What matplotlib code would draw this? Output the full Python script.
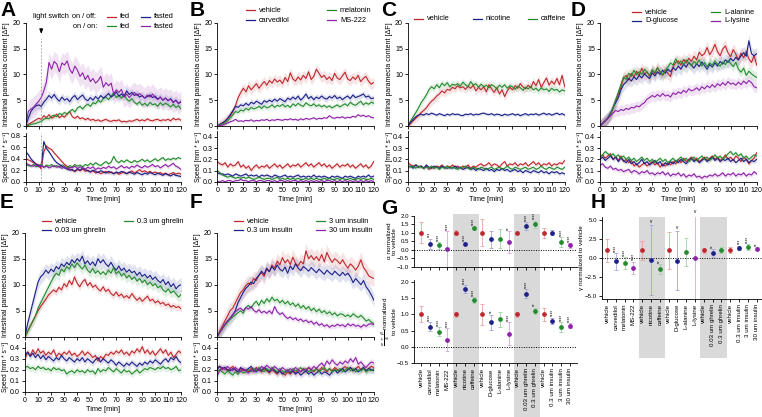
import numpy as np
import matplotlib
matplotlib.use('Agg')
import matplotlib.pyplot as plt
from matplotlib.lines import Line2D
from matplotlib.patches import Rectangle
from matplotlib import transforms

W, H = 762, 417
plt.rcParams['font.family'] = ['Liberation Sans', 'DejaVu Sans']
plt.rcParams['font.size'] = 5.3
plt.rcParams['xtick.labelsize'] = 5.1
plt.rcParams['ytick.labelsize'] = 5.1
plt.rcParams['axes.linewidth'] = 0.6
plt.rcParams['xtick.major.width'] = 0.6
plt.rcParams['ytick.major.width'] = 0.6
plt.rcParams['xtick.major.size'] = 2
plt.rcParams['ytick.major.size'] = 2
plt.rcParams['xtick.major.pad'] = 1.5
plt.rcParams['ytick.major.pad'] = 1.5

RED, BLUE, GREEN, PURPLE = '#c0272d', '#1c2088', '#238b2e', '#8c22a8'
LIGHT = {RED: '#e8a3a3', BLUE: '#a3a6d8', GREEN: '#9fd2a6', PURPLE: '#d8a6e0'}

# ---------------- A: light switch ----------------
A_fed_off = [0,0.3,0.6,0.9,1.2,1.5,1.3,2.0,1.6,2.2,1.5,1.8,2.3,1.6,2.0,1.7,2.4,2.8,1.8,1.5,1.9,1.4,1.6,1.2,1.5,1.1,1.3,1.0,1.2,0.9,1.1,1.3,1.0,0.9,1.1,1.0,1.2,0.8,0.9,0.8,1.0,0.9,1.1,1.3,1.0,1.2,1.0,1.4,1.1,1.0,1.2,1.3,1.0,1.2,1.1,1.3,1.0,1.5,1.2,1.4,1.1]
A_fed_on = [0,0.1,0.3,0.4,0.5,0.7,0.9,1.3,1.5,1.4,1.9,2.1,1.8,2.4,2.2,2.6,2.3,2.8,3.2,2.7,3.5,3.8,3.3,3.9,4.2,3.8,4.5,4.3,5.0,4.6,5.3,5.6,5.1,5.8,6.4,5.5,5.9,5.4,6.1,5.2,4.8,5.3,4.6,4.2,4.7,4.0,4.4,3.9,4.6,4.1,4.3,3.8,4.5,4.0,4.4,4.1,3.7,4.2,3.6,3.9,3.3]
A_fasted_off = [0,1.5,2.8,3.5,3.9,4.1,3.8,4.6,5.2,5.9,5.4,6.1,5.3,4.8,5.6,5.0,5.3,4.7,5.5,5.9,5.1,5.6,6.0,5.2,4.9,5.5,5.0,5.7,5.2,5.9,5.4,5.8,6.3,5.6,6.0,6.6,5.8,6.2,5.7,6.8,6.1,6.5,5.9,6.2,5.6,5.9,5.4,5.7,6.0,5.5,5.8,5.2,5.6,5.0,5.4,4.9,5.3,4.6,5.0,4.4,4.6]
A_fasted_on = [0,2.8,3.3,3.6,4.2,4.8,5.5,6.8,8.5,12.3,11.0,12.5,12.0,10.5,12.2,11.8,12.6,11.0,10.2,11.6,10.8,9.6,10.3,9.0,9.8,8.6,9.2,8.3,8.8,9.6,7.5,8.4,7.8,8.3,6.2,7.0,6.5,7.1,5.6,6.2,5.5,6.1,6.5,5.9,6.3,5.8,5.4,6.0,5.6,6.2,5.5,5.1,5.6,5.0,5.4,4.9,5.2,4.5,5.0,4.3,4.8]
A_spd_fed_off = [0.40,0.38,0.36,0.33,0.31,0.29,0.22,0.52,0.62,0.58,0.56,0.50,0.45,0.40,0.35,0.30,0.27,0.22,0.20,0.18,0.21,0.19,0.22,0.18,0.20,0.17,0.19,0.15,0.17,0.14,0.16,0.18,0.15,0.17,0.14,0.16,0.13,0.15,0.17,0.14,0.16,0.19,0.15,0.18,0.21,0.17,0.19,0.16,0.18,0.15,0.17,0.14,0.16,0.13,0.15,0.12,0.14,0.16,0.13,0.15,0.13]
A_spd_fasted_off = [0.52,0.47,0.40,0.35,0.30,0.28,0.26,0.70,0.58,0.52,0.45,0.38,0.33,0.30,0.27,0.24,0.22,0.20,0.21,0.18,0.23,0.20,0.24,0.21,0.19,0.17,0.20,0.18,0.16,0.19,0.17,0.15,0.18,0.16,0.14,0.17,0.15,0.18,0.16,0.14,0.17,0.15,0.13,0.16,0.14,0.12,0.15,0.13,0.16,0.14,0.12,0.15,0.13,0.11,0.14,0.12,0.10,0.13,0.11,0.10,0.09]
A_spd_fed_on = [0.30,0.28,0.27,0.30,0.26,0.28,0.31,0.25,0.29,0.27,0.30,0.26,0.28,0.25,0.29,0.27,0.24,0.28,0.26,0.30,0.27,0.29,0.26,0.30,0.28,0.32,0.29,0.33,0.30,0.28,0.32,0.35,0.31,0.34,0.44,0.36,0.33,0.37,0.34,0.38,0.35,0.33,0.37,0.34,0.36,0.39,0.35,0.38,0.34,0.37,0.40,0.36,0.39,0.42,0.37,0.40,0.38,0.41,0.39,0.42,0.40]
A_spd_fasted_on = [0.32,0.30,0.28,0.27,0.29,0.26,0.28,0.25,0.27,0.24,0.26,0.28,0.25,0.27,0.23,0.26,0.22,0.25,0.24,0.27,0.23,0.26,0.24,0.22,0.25,0.23,0.26,0.21,0.24,0.22,0.25,0.23,0.27,0.24,0.26,0.22,0.25,0.28,0.24,0.26,0.23,0.27,0.25,0.29,0.26,0.24,0.28,0.25,0.27,0.30,0.26,0.28,0.24,0.27,0.30,0.26,0.29,0.32,0.27,0.25,0.21]

# ---------------- B: sedatives ----------------
B_vehicle = [0,0.3,0.6,1.0,1.5,2.0,2.8,4.0,5.5,6.5,7.3,6.6,7.8,7.0,7.6,8.2,7.3,8.0,8.6,7.9,8.8,8.3,9.1,8.5,8.9,8.2,9.4,8.6,10.3,9.1,8.7,9.5,8.9,9.8,9.2,10.5,9.0,9.6,11.0,10.2,9.4,9.8,9.0,9.5,8.8,10.2,9.3,9.0,9.7,10.4,9.1,8.8,9.5,9.0,9.8,8.6,9.2,9.6,8.7,8.1,8.4]
B_carvedilol = [0,0.3,0.6,0.9,1.5,2.2,3.0,3.8,3.6,4.1,3.9,4.4,4.0,4.6,4.3,4.8,4.5,4.2,4.9,4.6,5.0,4.7,5.2,4.8,5.3,5.0,4.7,5.4,5.1,5.6,5.2,5.8,5.0,5.5,6.2,5.3,5.7,5.1,5.6,5.3,5.8,5.4,5.2,5.7,5.4,5.9,5.3,5.6,5.1,5.5,5.8,5.3,6.0,5.5,5.7,5.9,6.2,5.6,5.8,5.3,5.4]
B_melatonin = [0,0.2,0.4,0.7,1.0,1.6,2.2,2.8,2.6,3.1,2.9,3.4,3.1,3.6,3.3,3.5,3.8,3.4,3.9,3.5,3.7,4.1,3.6,4.0,3.8,4.2,3.7,4.0,3.6,4.3,3.9,4.4,4.0,3.8,4.5,4.1,3.9,4.3,3.8,4.1,3.7,4.0,3.6,3.9,3.5,3.8,4.1,3.7,4.0,4.3,3.9,4.6,4.2,4.0,4.4,4.8,4.1,4.5,4.2,4.6,4.4]
B_ms222 = [0,0.1,0.2,0.4,0.6,0.8,1.0,1.3,0.9,1.0,0.9,1.1,1.0,1.2,0.9,1.1,1.0,1.2,1.1,1.3,1.0,1.2,1.1,1.3,1.2,1.1,1.3,1.2,1.4,1.2,1.3,1.1,1.4,1.2,1.5,1.3,1.4,1.6,1.3,1.5,1.4,1.6,1.5,2.0,1.6,1.5,1.7,1.6,1.8,1.5,1.7,1.6,1.9,1.7,2.2,1.9,2.1,1.8,2.0,1.7,1.6]
B_spd_vehicle = [0.18,0.16,0.15,0.17,0.13,0.16,0.14,0.15,0.18,0.13,0.15,0.12,0.14,0.10,0.13,0.15,0.12,0.14,0.13,0.15,0.12,0.14,0.16,0.13,0.15,0.12,0.14,0.16,0.13,0.15,0.14,0.16,0.13,0.15,0.17,0.14,0.16,0.13,0.15,0.17,0.14,0.16,0.13,0.15,0.12,0.14,0.16,0.13,0.15,0.14,0.16,0.13,0.15,0.12,0.14,0.16,0.13,0.15,0.12,0.14,0.18]
B_spd_carvedilol = [0.08,0.07,0.07,0.06,0.07,0.06,0.05,0.07,0.06,0.05,0.06,0.07,0.05,0.06,0.05,0.06,0.04,0.06,0.05,0.06,0.05,0.04,0.06,0.05,0.04,0.05,0.06,0.04,0.05,0.04,0.05,0.06,0.04,0.05,0.04,0.05,0.04,0.06,0.04,0.05,0.04,0.05,0.04,0.03,0.05,0.04,0.05,0.04,0.03,0.05,0.04,0.05,0.04,0.03,0.05,0.04,0.05,0.04,0.06,0.04,0.05]
B_spd_melatonin = [0.10,0.08,0.06,0.05,0.04,0.05,0.04,0.03,0.04,0.03,0.04,0.03,0.04,0.03,0.02,0.03,0.04,0.03,0.02,0.03,0.03,0.02,0.03,0.04,0.02,0.03,0.02,0.03,0.02,0.03,0.02,0.03,0.02,0.02,0.03,0.02,0.03,0.02,0.03,0.02,0.02,0.03,0.02,0.03,0.02,0.02,0.03,0.02,0.03,0.02,0.02,0.03,0.02,0.02,0.03,0.02,0.03,0.02,0.02,0.03,0.02]
B_spd_ms222 = [0.00,0.00,0.01,0.00,0.01,0.01,0.00,0.01,0.01,0.02,0.01,0.01,0.00,0.01,0.01,0.00,0.01,0.01,0.00,0.01,0.01,0.00,0.01,0.00,0.01,0.01,0.00,0.01,0.00,0.01,0.01,0.00,0.01,0.00,0.01,0.00,0.01,0.00,0.01,0.00,0.01,0.00,0.01,0.01,0.00,0.01,0.00,0.01,0.00,0.01,0.00,0.01,0.00,0.01,0.00,0.01,0.00,0.01,0.00,0.01,0.00]

# ---------------- C: stimulants ----------------
C_vehicle = [0,0.5,1.0,1.5,2.0,2.6,3.0,3.5,4.2,4.8,5.2,5.8,6.2,6.8,6.4,7.1,6.9,7.5,7.2,7.8,7.4,7.6,7.1,7.7,7.3,7.9,6.8,7.5,7.0,7.6,6.6,8.0,7.2,6.5,7.4,6.2,7.0,5.7,6.8,7.5,7.0,7.8,7.3,8.2,7.6,7.2,7.9,7.4,8.6,7.8,9.0,7.5,8.4,9.3,7.9,8.7,8.1,9.2,8.0,9.8,7.6]
C_caffeine = [0,1.0,1.8,2.6,3.5,4.5,5.2,6.0,7.0,7.6,7.2,8.0,7.4,8.3,7.8,8.4,7.6,8.1,7.9,8.2,7.7,8.5,8.0,7.6,8.6,7.9,8.2,7.5,8.1,7.6,7.9,7.4,8.0,7.7,7.2,7.9,7.5,8.0,7.3,7.8,7.6,7.1,7.7,7.4,6.9,7.5,7.2,7.6,7.0,7.3,6.8,7.4,7.0,7.2,6.7,7.3,6.9,7.1,6.6,7.0,6.8]
C_nicotine = [0,0.7,1.3,1.8,2.1,2.3,2.1,2.4,2.2,2.5,2.3,2.1,2.4,2.2,2.0,2.3,2.1,2.4,2.2,2.3,2.1,2.0,2.3,2.2,2.4,2.1,2.3,2.2,2.4,2.5,2.3,2.2,2.4,2.1,2.3,2.2,2.0,2.3,2.1,2.2,2.4,2.1,2.3,2.0,2.2,2.4,2.1,2.3,2.2,2.4,2.1,2.3,2.5,2.2,2.4,2.1,2.3,2.5,2.2,2.4,2.1]
C_spd_vehicle = [0.17,0.15,0.14,0.15,0.13,0.14,0.12,0.14,0.11,0.13,0.12,0.14,0.13,0.15,0.12,0.14,0.13,0.15,0.13,0.14,0.12,0.14,0.13,0.15,0.12,0.14,0.13,0.15,0.16,0.14,0.15,0.17,0.14,0.16,0.15,0.13,0.16,0.18,0.14,0.16,0.15,0.17,0.14,0.16,0.15,0.17,0.14,0.16,0.18,0.15,0.17,0.14,0.16,0.15,0.17,0.14,0.16,0.15,0.17,0.16,0.19]
C_spd_nicotine = [0.13,0.14,0.12,0.15,0.13,0.14,0.12,0.15,0.13,0.12,0.14,0.13,0.12,0.14,0.13,0.12,0.13,0.12,0.14,0.12,0.13,0.11,0.12,0.13,0.11,0.12,0.10,0.12,0.11,0.10,0.12,0.10,0.11,0.09,0.11,0.10,0.12,0.10,0.11,0.09,0.10,0.11,0.09,0.10,0.08,0.10,0.09,0.08,0.10,0.09,0.08,0.10,0.08,0.09,0.07,0.09,0.08,0.09,0.07,0.08,0.07]
C_spd_caffeine = [0.14,0.13,0.14,0.12,0.14,0.13,0.12,0.13,0.12,0.14,0.12,0.13,0.11,0.13,0.12,0.14,0.12,0.13,0.12,0.11,0.13,0.12,0.14,0.12,0.11,0.13,0.12,0.11,0.13,0.12,0.11,0.12,0.13,0.11,0.12,0.13,0.11,0.12,0.14,0.12,0.11,0.13,0.12,0.11,0.12,0.13,0.11,0.12,0.13,0.11,0.12,0.14,0.12,0.11,0.13,0.12,0.11,0.13,0.12,0.11,0.13]

# ---------------- D: nutrients ----------------
D_vehicle = [0,0.5,1.0,1.5,2.0,3.5,5.0,6.2,7.5,9.2,9.8,8.9,10.2,9.5,10.6,9.8,11.2,10.0,10.5,9.6,10.8,10.1,11.3,10.4,9.8,10.9,10.2,9.6,11.5,12.3,12.6,11.8,12.9,12.2,13.1,12.5,13.5,12.8,14.3,13.6,14.0,15.2,13.8,14.6,15.8,14.4,13.6,14.9,15.5,14.2,13.4,14.8,13.9,12.8,14.1,13.2,14.5,13.0,12.3,13.6,11.8]
D_glucose = [0,0.5,1.0,1.6,2.5,3.5,4.5,5.5,7.0,8.0,8.5,9.2,8.7,9.5,9.0,9.8,9.3,10.1,9.6,9.2,10.3,9.7,10.5,10.0,10.8,10.2,11.0,10.5,11.3,10.8,11.6,11.0,12.0,11.4,12.3,11.8,11.2,12.1,11.5,12.4,11.7,11.0,11.9,11.4,12.2,11.6,12.5,12.0,12.8,12.3,13.1,12.6,13.3,12.8,13.6,14.2,13.5,16.5,14.0,13.6,14.0]
D_alanine = [0,0.5,1.0,1.5,2.3,3.5,5.0,6.5,8.0,9.5,9.0,10.2,9.6,10.8,9.9,10.5,10.0,11.0,10.4,9.8,10.9,10.3,11.2,10.5,9.9,10.7,11.4,12.2,11.8,13.0,12.0,12.6,11.9,12.8,12.2,11.7,12.5,12.0,12.8,11.6,12.3,11.5,12.2,11.8,12.6,12.0,11.6,12.4,11.9,12.7,12.1,11.5,12.3,11.0,10.4,11.2,9.8,10.6,10.1,9.7,9.4]
D_lysine = [0,0.5,1.0,1.5,2.0,2.5,3.0,2.8,3.2,3.0,3.4,3.2,3.6,3.5,3.9,3.7,4.2,4.5,5.2,5.5,5.9,5.6,6.1,5.7,6.3,5.8,6.0,5.6,6.4,6.1,6.6,6.3,6.9,6.5,7.2,6.8,7.0,7.4,6.9,7.6,7.2,7.8,7.4,8.0,7.5,8.2,7.8,8.4,7.9,8.6,8.1,8.3,7.9,8.5,8.0,8.7,8.2,8.8,8.4,7.6,7.4]
D_spd_vehicle = [0.22,0.24,0.21,0.23,0.25,0.20,0.22,0.19,0.23,0.18,0.20,0.17,0.19,0.14,0.16,0.13,0.15,0.17,0.14,0.16,0.18,0.15,0.17,0.13,0.16,0.14,0.17,0.15,0.18,0.16,0.20,0.17,0.21,0.18,0.20,0.22,0.19,0.21,0.18,0.20,0.22,0.19,0.21,0.23,0.20,0.22,0.19,0.21,0.24,0.20,0.22,0.19,0.23,0.21,0.18,0.22,0.20,0.16,0.19,0.21,0.26]
D_spd_glucose = [0.20,0.22,0.19,0.21,0.23,0.20,0.22,0.18,0.21,0.19,0.17,0.20,0.16,0.18,0.15,0.17,0.20,0.16,0.18,0.15,0.17,0.19,0.16,0.18,0.14,0.17,0.15,0.18,0.16,0.19,0.17,0.20,0.18,0.16,0.19,0.21,0.18,0.20,0.17,0.19,0.21,0.18,0.20,0.22,0.19,0.21,0.18,0.20,0.19,0.21,0.18,0.20,0.17,0.19,0.21,0.18,0.20,0.17,0.19,0.18,0.20]
D_spd_alanine = [0.22,0.24,0.27,0.25,0.23,0.25,0.22,0.24,0.21,0.23,0.20,0.22,0.19,0.21,0.18,0.20,0.22,0.19,0.21,0.18,0.20,0.17,0.19,0.21,0.18,0.20,0.17,0.19,0.21,0.18,0.20,0.22,0.19,0.21,0.18,0.20,0.22,0.19,0.21,0.23,0.20,0.22,0.19,0.21,0.24,0.21,0.23,0.20,0.22,0.25,0.27,0.24,0.26,0.23,0.25,0.21,0.23,0.20,0.22,0.24,0.23]
D_spd_lysine = [0.15,0.16,0.13,0.12,0.14,0.11,0.12,0.10,0.11,0.09,0.10,0.11,0.08,0.10,0.09,0.07,0.09,0.08,0.10,0.07,0.08,0.06,0.08,0.07,0.09,0.06,0.08,0.05,0.07,0.06,0.08,0.05,0.07,0.04,0.06,0.05,0.07,0.04,0.05,0.03,0.05,0.04,0.06,0.05,0.07,0.05,0.06,0.08,0.05,0.07,0.06,0.08,0.05,0.07,0.06,0.08,0.05,0.07,0.06,0.09,0.07]

# ---------------- E: ghrelin ----------------
E_vehicle = [0,1.0,2.0,3.0,4.0,5.0,5.8,6.5,7.2,8.0,8.5,9.0,8.6,9.5,9.0,10.2,9.6,10.8,10.0,11.5,10.3,9.6,10.5,11.0,9.8,10.4,9.5,9.9,9.2,8.8,9.6,8.7,9.1,8.3,7.9,8.6,7.8,8.2,7.5,7.9,7.4,8.3,7.6,7.0,7.5,6.8,7.3,7.8,6.9,7.2,6.5,6.9,6.3,6.6,6.0,6.3,5.7,6.0,5.6,5.8,5.3]
E_ghrelin_003 = [0,2.5,4.5,6.5,8.5,10.5,11.5,12.0,12.8,12.2,13.0,12.5,13.5,13.0,14.0,13.5,14.3,13.8,14.8,14.2,15.0,14.5,15.5,14.0,14.6,13.8,14.4,13.6,15.0,14.2,14.8,14.0,13.5,14.3,13.4,12.8,13.6,12.7,13.2,12.4,12.9,12.3,12.6,11.8,12.4,11.6,12.0,11.3,11.8,11.0,11.5,10.8,10.4,11.0,10.0,10.6,9.6,10.2,9.2,9.8,10.0]
E_ghrelin_03 = [0,1.0,2.0,3.0,4.0,5.5,6.5,7.5,8.5,9.5,10.5,11.5,12.2,11.8,13.0,12.5,13.5,13.0,14.0,13.3,14.2,13.6,13.0,13.8,12.8,12.3,13.1,12.2,12.7,12.0,12.5,11.9,12.8,12.2,13.3,12.1,12.6,11.7,12.2,11.3,11.8,11.0,11.5,10.7,11.2,10.4,10.9,10.0,10.5,9.8,10.2,9.4,9.8,9.0,8.6,9.2,8.4,8.8,8.2,7.6,8.2]
E_spd_vehicle = [0.30,0.36,0.33,0.38,0.34,0.39,0.35,0.37,0.33,0.36,0.34,0.38,0.32,0.35,0.33,0.36,0.34,0.37,0.33,0.35,0.32,0.34,0.37,0.33,0.36,0.34,0.31,0.33,0.28,0.32,0.30,0.34,0.33,0.36,0.34,0.37,0.35,0.38,0.34,0.36,0.33,0.37,0.35,0.39,0.36,0.41,0.35,0.38,0.34,0.37,0.33,0.36,0.39,0.35,0.38,0.33,0.36,0.31,0.34,0.37,0.35]
E_spd_ghrelin_003 = [0.33,0.36,0.32,0.35,0.31,0.34,0.30,0.33,0.29,0.32,0.30,0.28,0.31,0.29,0.33,0.30,0.28,0.31,0.29,0.27,0.30,0.28,0.31,0.27,0.30,0.28,0.26,0.29,0.31,0.27,0.30,0.28,0.26,0.29,0.27,0.24,0.27,0.25,0.23,0.26,0.24,0.27,0.25,0.23,0.26,0.24,0.27,0.25,0.28,0.26,0.29,0.27,0.25,0.28,0.30,0.27,0.31,0.29,0.32,0.28,0.26]
E_spd_ghrelin_03 = [0.22,0.23,0.21,0.22,0.20,0.23,0.21,0.22,0.20,0.21,0.19,0.22,0.20,0.21,0.19,0.20,0.16,0.18,0.19,0.17,0.20,0.18,0.19,0.17,0.20,0.18,0.19,0.16,0.21,0.18,0.20,0.19,0.22,0.20,0.18,0.21,0.19,0.17,0.20,0.18,0.19,0.16,0.18,0.20,0.17,0.19,0.21,0.20,0.22,0.21,0.20,0.22,0.21,0.23,0.21,0.22,0.20,0.21,0.23,0.19,0.20]

# ---------------- F: insulin ----------------
F_vehicle = [0,1.0,2.0,3.0,4.0,5.0,5.5,6.5,7.5,8.5,9.0,9.8,10.3,10.0,11.2,10.8,11.8,12.3,11.6,13.0,12.5,13.8,13.2,14.5,13.8,15.2,14.2,14.8,13.9,15.3,14.1,13.6,14.5,14.0,16.5,15.0,15.6,14.8,15.4,14.6,15.8,14.4,16.2,15.1,14.3,15.0,14.6,14.0,14.8,13.9,13.2,14.0,13.5,12.8,13.6,14.8,13.3,12.6,11.7,11.4,11.2]
F_insulin_03 = [0,0.8,1.6,2.3,3.0,3.5,4.2,5.0,6.5,7.5,8.5,9.3,9.8,10.5,10.2,11.2,11.8,12.6,12.0,13.2,12.5,13.5,12.8,13.8,13.0,12.6,13.4,12.2,13.6,12.9,14.0,13.2,12.7,13.5,13.1,12.6,13.3,12.8,12.3,13.0,12.5,12.0,12.8,12.3,11.9,12.6,12.1,11.7,12.4,11.8,12.2,11.5,10.4,11.2,10.6,10.0,10.8,9.6,8.9,8.0,7.0]
F_insulin_3 = [0,0.8,1.5,2.2,2.8,3.3,3.8,4.2,4.6,5.0,4.5,5.6,6.0,5.5,6.3,6.8,6.0,7.0,6.4,7.3,6.7,7.6,6.9,7.2,6.5,7.0,6.3,6.8,6.1,6.5,5.8,6.3,5.5,6.0,5.3,5.8,5.0,5.5,4.8,5.3,4.6,5.0,4.4,4.8,4.2,4.6,4.0,4.4,4.3,3.9,4.2,3.8,4.4,4.0,3.7,4.1,3.6,3.0,3.3,2.8,2.5]
F_insulin_30 = [0,0.8,1.6,2.4,3.0,3.6,4.2,4.8,5.2,5.5,5.0,5.6,5.3,5.8,5.1,4.7,5.2,4.6,4.9,4.5,5.0,4.4,5.8,4.8,4.3,4.6,3.9,3.5,3.8,3.3,3.6,3.1,3.4,2.9,3.2,2.7,3.0,2.4,2.8,2.2,2.5,2.0,2.3,1.8,2.2,2.0,2.4,2.1,2.3,1.9,2.5,2.1,2.4,2.0,2.2,1.8,2.3,2.0,2.4,2.5,2.3]
F_spd_vehicle = [0.22,0.23,0.20,0.22,0.19,0.21,0.23,0.20,0.18,0.21,0.19,0.20,0.18,0.21,0.19,0.22,0.20,0.18,0.21,0.19,0.17,0.20,0.18,0.16,0.19,0.17,0.15,0.18,0.16,0.19,0.17,0.20,0.18,0.21,0.19,0.22,0.20,0.18,0.21,0.19,0.22,0.20,0.18,0.21,0.19,0.22,0.20,0.19,0.21,0.23,0.20,0.22,0.19,0.21,0.23,0.20,0.22,0.19,0.21,0.23,0.22]
F_spd_insulin_03 = [0.20,0.23,0.21,0.22,0.20,0.19,0.21,0.20,0.18,0.22,0.20,0.19,0.21,0.23,0.20,0.18,0.21,0.19,0.22,0.20,0.18,0.21,0.19,0.17,0.19,0.16,0.18,0.20,0.17,0.19,0.16,0.18,0.15,0.17,0.19,0.16,0.18,0.15,0.17,0.19,0.16,0.18,0.17,0.15,0.18,0.20,0.17,0.19,0.21,0.18,0.20,0.22,0.19,0.21,0.18,0.20,0.22,0.19,0.21,0.20,0.19]
F_spd_insulin_3 = [0.18,0.20,0.18,0.16,0.19,0.17,0.15,0.18,0.16,0.19,0.17,0.18,0.20,0.18,0.21,0.19,0.22,0.20,0.18,0.21,0.19,0.22,0.20,0.18,0.21,0.19,0.17,0.20,0.18,0.21,0.19,0.20,0.22,0.19,0.21,0.18,0.20,0.19,0.21,0.18,0.20,0.22,0.19,0.21,0.18,0.20,0.19,0.21,0.18,0.20,0.22,0.19,0.21,0.18,0.20,0.19,0.21,0.18,0.20,0.19,0.21]
F_spd_insulin_30 = [0.14,0.19,0.22,0.20,0.23,0.21,0.19,0.22,0.20,0.18,0.21,0.19,0.17,0.20,0.18,0.21,0.19,0.23,0.21,0.24,0.22,0.20,0.23,0.21,0.19,0.22,0.20,0.18,0.21,0.19,0.22,0.20,0.18,0.21,0.19,0.22,0.20,0.23,0.21,0.24,0.26,0.23,0.28,0.25,0.29,0.26,0.24,0.27,0.25,0.28,0.26,0.30,0.27,0.31,0.25,0.27,0.24,0.22,0.25,0.27,0.26]

# ---------------- G / H: model parameters ----------------
categories = ['vehicle', 'carvedilol', 'melatonin', 'MS-222', 'vehicle', 'nicotine', 'caffeine',
              'vehicle', 'D-glucose', 'L-alanine', 'L-lysine', 'vehicle', '0.03 um ghrelin',
              '0.3 um ghrelin', 'vehicle', '0.3 um insulin', '3 um insulin', '30 um insulin']
alpha_mean = [1.0, 0.35, 0.25, 0.05, 1.0, 0.35, 1.25, 1.0, 0.6, 0.65, 0.45, 1.0, 1.4, 1.5, 1.0, 1.0, 0.45, 0.25]
alpha_err = [0.6, 0.3, 0.2, 1.05, 0.15, 0.1, 0.1, 0.8, 0.5, 0.55, 0.65, 0.1, 0.23, 0.2, 0.3, 0.15, 0.3, 0.15]
alpha_sig = ['', '***', '****', '****', '', '****', '****', '', '', '', '**', '', '****', '****', '', '', '****', '****']
ab_mean = [1.0, 0.62, 0.47, 0.22, 1.0, 1.77, 1.43, 1.0, 0.75, 0.85, 0.4, 1.0, 1.63, 1.1, 1.0, 0.8, 0.6, 0.65]
ab_err = [0.25, 0.13, 0.13, 0.35, 0.08, 0.12, 0.09, 0.33, 0.24, 0.23, 0.35, 0.07, 0.13, 0.1, 0.2, 0.1, 0.15, 0.07]
ab_sig = ['', '****', '****', '****', '', '****', '****', '', '**', '', '****', '', '****', '**', '', '****', '****', '****']
gamma_mean = [1.0, -0.45, -0.7, -1.3, 1.0, -0.3, -1.45, 1.0, -0.35, 0.8, 0.0, 1.0, 0.65, 1.1, 1.0, 1.3, 1.45, 1.25]
gamma_err = [1.5, 1.1, 0.8, 0.8, 1.3, 4.6, 0.65, 2.45, 3.85, 1.9, 5.6, 0.3, 0.5, 0.4, 0.4, 0.3, 0.4, 0.15]
gamma_sig = ['', '****', '****', '****', '', 'v', '**', '', 'v', '', 'v', '', '**', '', '', '***', '****', '**']
cat_colors = [RED, BLUE, GREEN, PURPLE, RED, BLUE, GREEN, RED, BLUE, GREEN, PURPLE,
              RED, BLUE, GREEN, RED, BLUE, GREEN, PURPLE]
shaded_groups = [(3.6, 6.6), (10.6, 13.6)]

fig = plt.figure(figsize=(W / 100, H / 100), dpi=100)


def rect(l, t, r, b):
    return [l / W, 1 - b / H, (r - l) / W, (b - t) / H]


def ftext(x, y, s, **kw):
    kw.setdefault('va', 'center')
    fig.text(x / W, 1 - y / H, s, **kw)


def fline(x1, x2, y, color):
    fig.add_artist(Line2D([x1 / W, x2 / W], [1 - y / H] * 2, color=color, lw=0.9))


def legend(entries):
    for x1, y, label, color in entries:
        fline(x1, x1 + 9, y, color)
        ftext(x1 + 13, y, label)


def timecourse(xl, xr, top, mid, ltop, bot, upper, lower, lmax, lticks):
    axu = fig.add_axes(rect(xl, top, xr, mid))
    axl = fig.add_axes(rect(xl, ltop, xr, bot))
    for ax, series in ((axu, upper), (axl, lower)):
        for y, band, c in series:
            y = np.array(y)
            t = np.arange(len(y)) * 2
            ax.fill_between(t, y - band, y + band, color=c, alpha=0.13, lw=0)
            ax.plot(t, y, color=c, lw=0.8)
        ax.set_xlim(0, 120)
        ax.set_xticks(range(0, 121, 10))
        ax.spines[['top', 'right']].set_visible(False)
        ax.yaxis.set_label_coords(-15.5 / (xr - xl), 0.5)
    axu.set_ylim(0, 20)
    axu.set_yticks([0, 5, 10, 15, 20])
    axu.tick_params(labelbottom=False)
    axl.set_ylim(0, lmax)
    axl.set_yticks(lticks)
    axl.yaxis.set_major_formatter('{x:.1f}')
    axu.set_ylabel('Intestinal paramecia content [ΔF]', fontsize=5)
    axl.set_ylabel('Speed [mm * s⁻¹]', fontsize=4.7)
    axl.set_xlabel('Time [min]', labelpad=2)
    return axu, axl


tick01 = [0, 0.1, 0.2, 0.3, 0.4]

# A
axu, axl = timecourse(25.7, 181, 22.7, 126, 132.8, 181.7,
                      [(A_fed_off, 0.4, RED), (A_fed_on, 0.5, GREEN), (A_fasted_off, 0.8, BLUE), (A_fasted_on, 2.0, PURPLE)],
                      [(A_spd_fed_off, 0.03, RED), (A_spd_fed_on, 0.03, GREEN), (A_spd_fasted_off, 0.03, BLUE), (A_spd_fasted_on, 0.03, PURPLE)],
                      0.85, [0, 0.2, 0.4, 0.6, 0.8])
axu.axvline(12, ymax=0.85, color='#999999', ls=(0, (3, 2)), lw=0.5)
axl.axvline(12, color='#999999', ls=(0, (3, 2)), lw=0.5)
axu.annotate('', xy=(12, 17.3), xytext=(12, 19.4), annotation_clip=False,
             arrowprops=dict(arrowstyle='-|>,head_length=0.5,head_width=0.2', color='black', lw=0.7))
ftext(33, 17, 'light switch')
ftext(72, 17, 'on / off:')
ftext(73, 26, 'on / on:')
legend([(107, 17, 'fed', RED), (107, 26, 'fed', GREEN), (141, 17, 'fasted', BLUE), (141, 26, 'fasted', PURPLE)])

# B
timecourse(217.3, 373.7, 22.7, 126, 131.4, 181.7,
           [(B_vehicle, 1.0, RED), (B_carvedilol, 0.6, BLUE), (B_melatonin, 0.5, GREEN), (B_ms222, 0.2, PURPLE)],
           [(B_spd_vehicle, 0.02, RED), (B_spd_carvedilol, 0.015, BLUE), (B_spd_melatonin, 0.015, GREEN), (B_spd_ms222, 0.01, PURPLE)],
           0.45, tick01)
legend([(246, 10, 'vehicle', RED), (246, 20, 'carvedilol', BLUE), (327, 10, 'melatonin', GREEN), (327, 20, 'MS-222', PURPLE)])

# C
timecourse(408, 564.7, 22.7, 126, 131.4, 181.7,
           [(C_vehicle, 0.8, RED), (C_caffeine, 0.7, GREEN), (C_nicotine, 0.3, BLUE)],
           [(C_spd_vehicle, 0.015, RED), (C_spd_nicotine, 0.015, BLUE), (C_spd_caffeine, 0.015, GREEN)],
           0.45, tick01)
legend([(414, 19, 'vehicle', RED), (473, 19, 'nicotine', BLUE), (528, 19, 'caffeine', GREEN)])

# D
timecourse(600, 756.7, 22.7, 126, 131.4, 181.7,
           [(D_vehicle, 1.2, RED), (D_glucose, 1.2, BLUE), (D_alanine, 1.0, GREEN), (D_lysine, 1.0, PURPLE)],
           [(D_spd_vehicle, 0.02, RED), (D_spd_glucose, 0.02, BLUE), (D_spd_alanine, 0.02, GREEN), (D_spd_lysine, 0.02, PURPLE)],
           0.45, tick01)
legend([(632, 12, 'vehicle', RED), (632, 21, 'D-glucose', BLUE), (711, 12, 'L-alanine', GREEN), (711, 21, 'L-lysine', PURPLE)])

# E
timecourse(25, 181.3, 232.7, 336.7, 342.2, 391.7,
           [(E_vehicle, 0.7, RED), (E_ghrelin_003, 1.3, BLUE), (E_ghrelin_03, 1.0, GREEN)],
           [(E_spd_vehicle, 0.03, RED), (E_spd_ghrelin_003, 0.03, BLUE), (E_spd_ghrelin_03, 0.03, GREEN)],
           0.45, tick01)
legend([(42, 221, 'vehicle', RED), (42, 230, '0.03 um ghrelin', BLUE), (124, 221, '0.3 um ghrelin', GREEN)])

# F
timecourse(217, 374, 232.7, 336.7, 342.2, 391.7,
           [(F_vehicle, 1.5, RED), (F_insulin_03, 1.3, BLUE), (F_insulin_3, 0.7, GREEN), (F_insulin_30, 0.5, PURPLE)],
           [(F_spd_vehicle, 0.03, RED), (F_spd_insulin_03, 0.03, BLUE), (F_spd_insulin_3, 0.03, GREEN), (F_spd_insulin_30, 0.03, PURPLE)],
           0.45, tick01)
legend([(234, 221, 'vehicle', RED), (234, 230, '0.3 um insulin', BLUE), (316, 221, '3 um insulin', GREEN), (316, 230, '30 um insulin', PURPLE)])


def dotplot(ax, means, errs, sigs, ylim, yticks, labels):
    x = np.arange(len(means))
    for i, (m, e, c, s) in enumerate(zip(means, errs, cat_colors, sigs)):
        ax.errorbar(i, m, yerr=e, fmt='none', ecolor=LIGHT[c], elinewidth=0.6, capsize=1.2, capthick=0.6)
        ax.plot(i, m, 'o', ms=2.4, color=c, zorder=3)
        if s:
            rot = 0 if s == 'v' else 90
            ax.annotate(s, (i, m + e), xytext=(0, 1), textcoords='offset points', rotation=rot,
                        ha='center', va='bottom', fontsize=3.3, annotation_clip=False)
    ax.axhline(0, color='black', ls=(0, (1, 1.5)), lw=0.7)
    ax.set_xlim(-0.8, 17.8)
    ax.set_ylim(*ylim)
    ax.set_yticks(yticks)
    ax.yaxis.set_major_formatter('{x:.1f}')
    ax.set_xticks(x)
    if labels:
        ax.set_xticklabels(categories, rotation=90, fontsize=4.4)
    else:
        ax.set_xticklabels([])
    ax.spines[['top', 'right']].set_visible(False)
    ax.set_facecolor('none')
    ax.tick_params(labelsize=4.4)


axg1 = fig.add_axes(rect(414, 215.7, 576.8, 266.7))
dotplot(axg1, alpha_mean, alpha_err, alpha_sig, (-1, 2), [-1, -0.5, 0, 0.5, 1, 1.5, 2], False)
axg1.set_ylabel('α normalized\nto vehicle', fontsize=4.6, linespacing=1.0)
axg2 = fig.add_axes(rect(414, 280, 576.8, 363.3))
dotplot(axg2, ab_mean, ab_err, ab_sig, (-0.5, 2.05), [-0.5, 0, 0.5, 1, 1.5, 2], True)
axg2.set_ylabel(r'$\frac{\alpha\ +\ \beta}{4}$ normalized' + '\nto vehicle', fontsize=4.6, linespacing=1.0)
axh = fig.add_axes(rect(601.7, 217, 762, 299))
dotplot(axh, gamma_mean, gamma_err, gamma_sig, (-5.4, 5.4), [-5, -2.5, 0, 2.5, 5], True)
axh.set_xlim(-0.6, 17.6)
axh.set_ylabel('γ normalized to vehicle', fontsize=4.6)
for ax in (axg1, axg2):
    ax.yaxis.set_label_coords(-17 / 162.8, 0.5)
axh.yaxis.set_label_coords(-18 / 160.3, 0.5)

for ax, ytop, ybot in ((axg2, 214, 417), (axh, 217, 357.7)):
    tr = transforms.blended_transform_factory(ax.transData, fig.transFigure)
    for x0, x1 in shaded_groups:
        fig.add_artist(Rectangle((x0, 1 - ybot / H), x1 - x0, (ybot - ytop) / H, transform=tr,
                                 facecolor='#d9d9d9', edgecolor='none', zorder=-1))

for letter, x, y in (('A', 0, 1), ('B', 190, 1), ('C', 381, 1), ('D', 571, 1),
                     ('E', 0, 193), ('F', 190, 193), ('G', 381, 199), ('H', 591, 193)):
    fig.text(x / W, 1 - y / H, letter, fontsize=15, fontweight='bold', va='top')

fig.savefig('out.png', dpi=100)
